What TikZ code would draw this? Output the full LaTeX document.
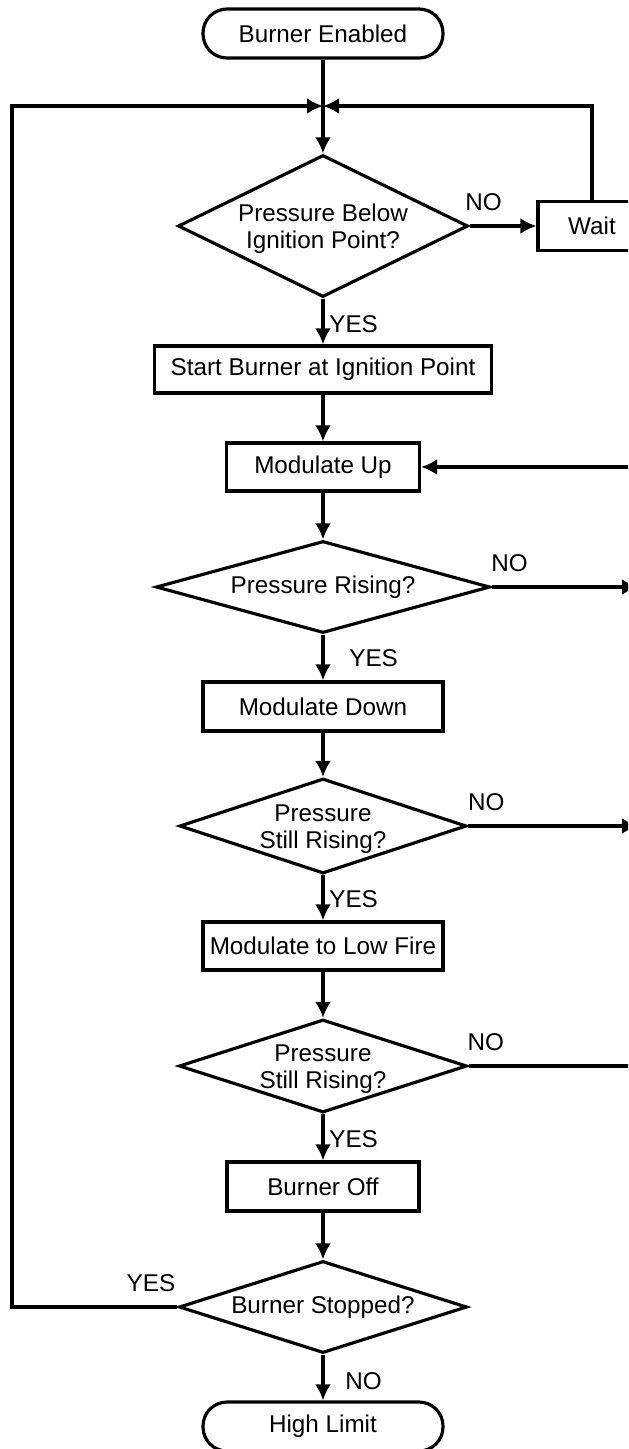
\documentclass[tikz,border=0pt]{standalone}
\usepackage{fontspec}
\setmainfont{Liberation Sans}
\usetikzlibrary{
	positioning,
	arrows.meta,
	shapes.geometric
}

\begin{document}
\begin{tikzpicture}[x=0.2mm,y=-0.2mm,auto,
	font=\fontsize{13.8pt}{15.4pt}\selectfont,
	line width=1.8pt,
	process/.style={draw,rectangle,inner sep=0pt},
	terminal/.style={draw,rectangle,rounded corners=4.8mm,minimum width=48mm,minimum height=9.8mm,inner sep=0pt},
	decision/.style={draw,diamond,inner sep=0pt},
	arr/.style={-{Latex[length=3.2mm,width=3.2mm]}},
	answer/.style={inner sep=1pt}]
	\useasboundingbox (0,0) rectangle (628,1449);
	\clip (0,0) rectangle (628,1449);

	\node[terminal] (enabled) at (323,33.5) {Burner Enabled};
	\coordinate (j) at (323,106);
	\node[decision, minimum width=58mm, minimum height=28.4mm, label={[align=center,yshift=-0.6mm]center:Pressure Below\\Ignition Point?}] (press_below) at (323,226) {};
	\node[process, minimum width=21.6mm, minimum height=9.8mm] (wait) at (592,226) {Wait};
	\node[process, minimum width=67.4mm, minimum height=9.4mm] (start) at (323,369.5) {Start Burner at Ignition Point};
	\node[process, minimum width=38.6mm, minimum height=9.6mm] (mod_up) at (323,467) {Modulate Up};
	\coordinate (up_in) at (640,467);
	\node[decision, minimum width=66.8mm, minimum height=18.4mm, label=center:Pressure Rising?] (rising) at (323,587) {};
	\coordinate (rising_out) at (638,587);
	\node[process, minimum width=48mm, minimum height=9.8mm] (mod_down) at (323,706.5) {Modulate Down};
	\node[decision, minimum width=57.4mm, minimum height=19mm, label={[align=center,yshift=-0.6mm]center:Pressure\\Still Rising?}] (still_a) at (323,826) {};
	\coordinate (still_a_out) at (638,826);
	\node[process, minimum width=48mm, minimum height=9.6mm] (mod_low) at (323,946) {Modulate to Low Fire};
	\node[decision, minimum width=57.6mm, minimum height=18.6mm, label={[align=center,yshift=-0.6mm]center:Pressure\\Still Rising?}] (still_b) at (323,1066) {};
	\coordinate (still_b_out) at (660,1066);
	\node[process, minimum width=38.4mm, minimum height=9.8mm] (off) at (323,1186.5) {Burner Off};
	\node[decision, minimum width=57.6mm, minimum height=18.4mm, label=center:Burner Stopped?] (stopped) at (323,1307) {};
	\node[terminal] (high_limit) at (323,1426.5) {High Limit};
	\coordinate (loop_b) at (12,1307);
	\coordinate (loop_t) at (12,106);

	\draw[arr] (enabled) -- (press_below);
	\draw[arr] (press_below) -- node[answer, pos=0.21, above=2.3mm]{NO} (wait);
	\draw[arr] (wait) |- (j);
	\draw[arr] (stopped.west) -- node[answer, pos=0.16, above=2.3mm]{YES} (loop_b) -- (loop_t) -- (j);
	\draw[arr] (press_below) -- node[answer, pos=0.55, right=0.6mm]{YES} (start);
	\draw[arr] (start) -- (mod_up);
	\draw[arr] (up_in) -- (mod_up);
	\draw[arr] (mod_up) -- (rising);
	\draw[arr] (rising) -- node[answer, pos=0.123, above=2.3mm]{NO} (rising_out);
	\draw[arr] (rising) -- node[answer, pos=0.52, right=4.6mm]{YES} (mod_down);
	\draw[arr] (mod_down) -- (still_a);
	\draw[arr] (still_a) -- node[answer, pos=0.107, above=2.3mm]{NO} (still_a_out);
	\draw[arr] (still_a) -- node[answer, pos=0.53, right=0.6mm]{YES} (mod_low);
	\draw[arr] (mod_low) -- (still_b);
	\draw (still_b) -- node[answer, pos=0.09, above=2.3mm]{NO} (still_b_out);
	\draw[arr] (still_b) -- node[answer, pos=0.53, right=0.6mm]{YES} (off);
	\draw[arr] (off) -- (stopped);
	\draw[arr] (stopped) -- node[answer, pos=0.59, right=3.8mm]{NO} (high_limit);
\end{tikzpicture}
\end{document}
